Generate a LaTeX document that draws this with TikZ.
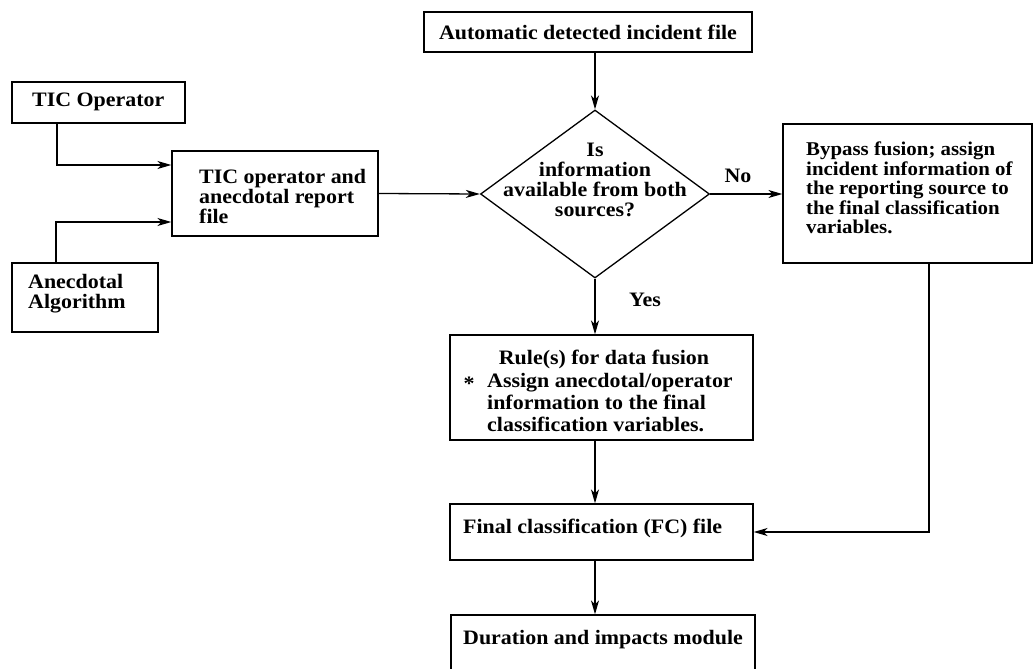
\documentclass[tikz,border=0pt]{standalone}
\usepackage{fontspec}
\setmainfont{Liberation Serif}[FakeStretch=1.07]
\usetikzlibrary{shapes.geometric,arrows.meta}

\tikzset{
  box/.style={draw, line width=1.3pt, inner sep=0pt},
  txt/.style={font=\fontsize{20.5}{20}\selectfont\bfseries, inner sep=0pt, align=left},
  arr/.style={-{Stealth[length=14pt,width=8pt,inset=4pt]}, line width=1.3pt}
}

\begin{document}
\begin{tikzpicture}[x=1pt,y=-1pt]
\useasboundingbox (0,0) rectangle (1036,669);

% boxes
\node[box, minimum width=173pt, minimum height=41pt] (tic)  at (98.5,102.5) {};
\node[box, minimum width=206pt, minimum height=85pt] (mid)  at (275,193.5) {};
\node[box, minimum width=146pt, minimum height=69pt] (anec) at (85,297.5) {};
\node[box, minimum width=328pt, minimum height=40pt, txt] (auto) at (588,32) {Automatic detected incident file};
\node[box, diamond, minimum width=229pt, minimum height=168pt] (dec) at (595,194) {};
\node[box, minimum width=249pt, minimum height=139pt] (byp)  at (907.5,193.5) {};
\node[box, minimum width=303pt, minimum height=105pt] (rule) at (601.5,387.5) {};
\node[box, minimum width=303pt, minimum height=56pt]  (fc)   at (601.5,532) {};
\node[box, minimum width=304pt, minimum height=57pt]  (dur)  at (603,643.5) {};

% box texts
\node[txt, anchor=west] (tictxt) at (32,102) {TIC Operator};
\node[txt, anchor=north west] (midtxt) at (199,169) {TIC operator and\\anecdotal report\\file};
\node[txt, anchor=north west] (anectxt) at (28,274) {Anecdotal\\Algorithm};
\node[txt, align=center] (dectxt) at (595,180) {Is\\information\\available from both\\sources?};
\node[txt, anchor=north west, font=\fontsize{19.5}{19.5}\selectfont\bfseries] (byptxt) at (806,142) {Bypass fusion; assign\\incident information of\\the reporting source to\\the final classification\\variables.};
\node[txt] (ruletitle) at (604,359) {Rule(s) for data fusion};
\node[txt] (star) at (469,384) {*};
\node[txt, anchor=north west, font=\fontsize{20.5}{22}\selectfont\bfseries] (rulebody) at (487,373) {Assign anecdotal/operator\\information to the final\\classification variables.};
\node[txt, anchor=west] (fctxt) at (463,528) {Final classification (FC) file};
\node[txt, anchor=west] (durtxt) at (463,640) {Duration and impacts module};

% branch labels
\node[txt] (no)  at (738,176) {No};
\node[txt] (yes) at (645,300) {Yes};

% connectors
\draw[arr] ([xshift=-41.5pt]tic.south) |- ([yshift=28.5pt]mid.west);
\draw[arr] ([xshift=-29pt]anec.north) |- ([yshift=-28.5pt]mid.west);
\draw[arr] (mid.east) -- (dec.west);
\draw[arr] (auto.south -| dec.north) -- (dec.north);
\draw[arr] (dec.east) -- (dec.east -| byp.west);
\draw[arr] (dec.south) -- (dec.south |- rule.north);
\draw[arr] (dec.south |- rule.south) -- (dec.south |- fc.north);
\draw[arr] (dec.south |- fc.south) -- (dec.south |- dur.north);
\draw[arr] ([xshift=21.5pt]byp.south) |- (fc.east);
\end{tikzpicture}
\end{document}
